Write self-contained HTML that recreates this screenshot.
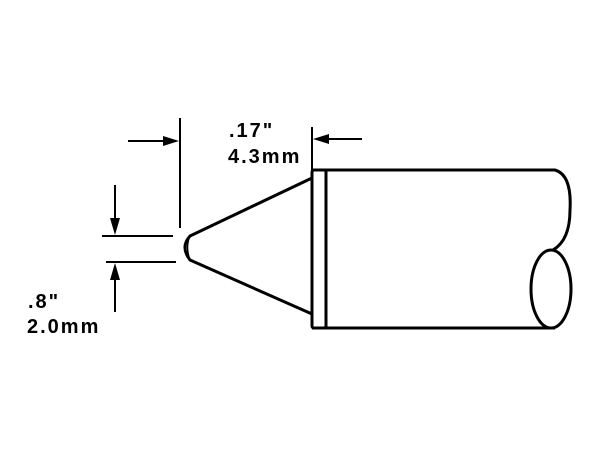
<!DOCTYPE html>
<html><head><style>body{margin:0;background:#fff}svg{display:block}</style></head><body>
<svg width="600" height="450" viewBox="0 0 600 450" xmlns="http://www.w3.org/2000/svg">
<g fill="none" stroke="#000" stroke-width="3" stroke-linejoin="round">
<path d="M312,170 L555,170 Q572,175 570,210 Q570,240 553,250"/>
<path d="M312,328 L555,328"/>
<rect x="312" y="170" width="14" height="158" rx="2"/>
<ellipse cx="551" cy="289" rx="20" ry="39"/>
<path d="M312,178 L190,236 Q180,247 190,260 L312,314"/>
<path d="M190,236 Q185,247 190,260" stroke-width="1.5"/>
<line x1="180" y1="118" x2="180" y2="228" stroke-width="2"/>
<line x1="128" y1="141" x2="172" y2="141" stroke-width="2"/>
<line x1="312" y1="127" x2="312" y2="170" stroke-width="2"/>
<line x1="320" y1="139" x2="362" y2="139" stroke-width="2"/>
<line x1="102" y1="236" x2="173" y2="236" stroke-width="2"/>
<line x1="106" y1="262" x2="176" y2="262" stroke-width="2"/>
<line x1="115" y1="185" x2="115" y2="226" stroke-width="2"/>
<line x1="115" y1="272" x2="115" y2="312" stroke-width="2"/>
</g>
<g fill="#000">
<polygon points="179,141 163,136 163,146"/>
<polygon points="313,139 329,134 329,144"/>
<polygon points="115,235 110,218 120,218"/>
<polygon points="115,263 110,280 120,280"/>
</g>
<g font-family="Liberation Sans, sans-serif" font-weight="bold" font-size="20" fill="#000" letter-spacing="2">
<text x="229" y="137">.17"</text>
<text x="228" y="163">4.3mm</text>
<text x="28" y="308">.8"</text>
<text x="27" y="333">2.0mm</text>
</g>
</svg>
</body></html>
